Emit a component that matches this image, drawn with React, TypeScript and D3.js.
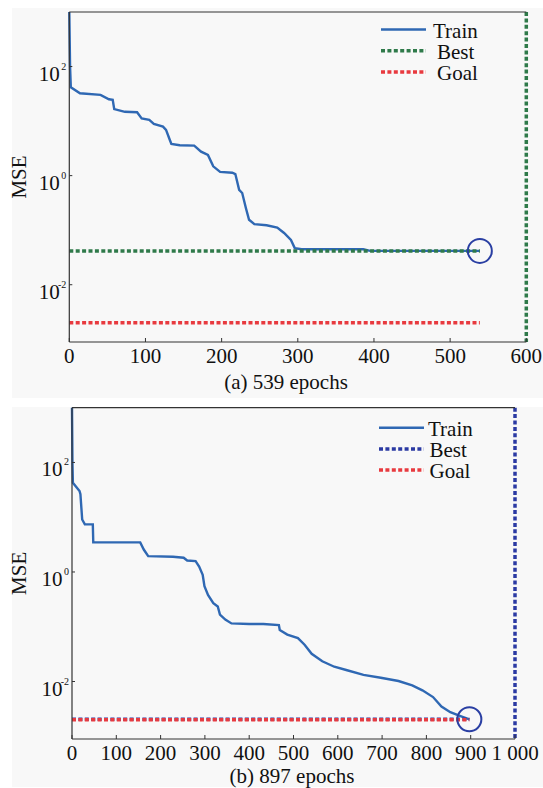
import React from 'react'
import * as d3 from 'd3'

const W = 543
const H = 788
const FONT = 'Liberation Serif, Times New Roman, DejaVu Serif, serif'

// panel (a)
const epochsA = [0, 1, 2, 14, 41, 52, 57, 59, 73, 89, 95, 105, 111, 123, 127, 132, 134, 145, 164, 173, 182, 189, 198, 214, 218, 223, 227, 232, 236, 243, 259, 273, 282, 291, 296, 305, 386, 395, 539]
const mseA = [1000, 100, 41.7, 32.4, 30.2, 25.1, 24.5, 16.6, 14.8, 14.5, 11.2, 10.5, 8.9, 7.9, 6.9, 4.5, 3.8, 3.6, 3.55, 2.75, 2.4, 1.48, 1.17, 1.13, 1.07, 0.55, 0.48, 0.25, 0.155, 0.129, 0.123, 0.112, 0.089, 0.066, 0.047, 0.0447, 0.0447, 0.0417, 0.0417]
const bestA = 0.0417
const goalA = 0.002
const lastEpochA = 539
const xTicksA = [0, 100, 200, 300, 400, 500, 600]
const xLabelsA = ['0', '100', '200', '300', '400', '500', '600']

// panel (b)
const epochsB = [0, 1, 2, 17, 19, 23, 29, 47, 48, 154, 162, 172, 228, 252, 260, 279, 287, 295, 299, 307, 319, 329, 334, 346, 360, 400, 432, 467, 469, 486, 510, 525, 541, 565, 592, 619, 658, 697, 737, 768, 791, 815, 834, 854, 877, 897]
const mseB = [1000, 100, 42.7, 30.2, 26.3, 9.1, 7.4, 7.4, 3.47, 3.47, 2.57, 1.95, 1.9, 1.82, 1.62, 1.58, 1.26, 0.89, 0.55, 0.38, 0.27, 0.234, 0.166, 0.135, 0.115, 0.112, 0.112, 0.107, 0.087, 0.072, 0.062, 0.047, 0.032, 0.0234, 0.0186, 0.0162, 0.0132, 0.0117, 0.0102, 0.0085, 0.0069, 0.0052, 0.0035, 0.00275, 0.00234, 0.00204]
const bestB = 0.00204
const goalB = 0.002
const lastEpochB = 897
const xTicksB = [0, 100, 200, 300, 400, 500, 600, 700, 800, 900, 1000]
const xLabelsB = ['0', '100', '200', '300', '400', '500', '600', '700', '800', '900', '1 000']

const yTicks = [100, 1, 0.01]
const yExps = ['2', '0', '-2']
const legendLabels = ['Train', 'Best', 'Goal']

const trainColor = '#2f68b3'
const goalColor = '#e83a3f'

type PanelProps = {
  epochs: number[]
  mse: number[]
  best: number
  goal: number
  lastEpoch: number
  xTicks: number[]
  xLabels: string[]
  xMax: number
  left: number
  right: number
  top: number
  bottom: number
  bestColor: string
  caption: string
  captionX: number
  captionY: number
  legendX: number
  legendY: number
  legendTextX: number[]
}

const txt = { fontFamily: FONT, fill: '#111' }

const Panel = (p: PanelProps) => {
  const x = d3.scaleLinear().domain([0, p.xMax]).range([p.left, p.right])
  const y = d3.scaleLog().domain([Math.pow(10, -3.05), 1000]).range([p.bottom, p.top])
  const line = d3.line<number>()
    .x((d, i) => x(p.epochs[i]))
    .y(d => y(d))
  const dash = '4 2.4'
  const legendColors = [trainColor, p.bestColor, goalColor]
  return (
    <g>
      <path d={line(p.mse) || ''} fill='none' stroke={trainColor} strokeWidth={2.4} />
      <line x1={x(0)} x2={x(p.lastEpoch)} y1={y(p.best)} y2={y(p.best)} stroke={p.bestColor} strokeWidth={3.5} strokeDasharray={dash} />
      <line x1={x(p.xMax)} x2={x(p.xMax)} y1={p.top} y2={p.bottom} stroke={p.bestColor} strokeWidth={3.5} strokeDasharray={dash} />
      <line x1={x(0)} x2={x(p.lastEpoch)} y1={y(p.goal)} y2={y(p.goal)} stroke={goalColor} strokeWidth={3.5} strokeDasharray={dash} />
      <circle cx={x(p.lastEpoch)} cy={y(p.best)} r={12} fill='none' stroke='#2a3fa3' strokeWidth={2} />
      {/* axes */}
      <line x1={p.left} x2={p.right} y1={p.top} y2={p.top} stroke='#333' strokeWidth={1.2} />
      <line x1={p.left} x2={p.right} y1={p.bottom} y2={p.bottom} stroke='#333' strokeWidth={1.2} />
      <line x1={p.left} x2={p.left} y1={p.top} y2={p.bottom} stroke='#333' strokeWidth={1.2} />
      {p.xTicks.map((t, i) => (
        <g key={t}>
          <line x1={x(t)} x2={x(t)} y1={p.bottom} y2={p.bottom - 4} stroke='#333' />
          <text x={x(t)} y={p.bottom + 21} textAnchor='middle' fontSize={21} style={txt}>{p.xLabels[i]}</text>
        </g>
      ))}
      {yTicks.map((t, i) => (
        <g key={t}>
          <line x1={p.left} x2={p.left + 3} y1={y(t)} y2={y(t)} stroke='#333' />
          <text x={p.left - 9.5} y={y(t) + 14} textAnchor='end' fontSize={21} style={txt}>10</text>
          <text x={p.left - 3} y={y(t) + 3} textAnchor='end' fontSize={10} style={txt}>{yExps[i]}</text>
        </g>
      ))}
      <text transform={`translate(${26},${(p.top + p.bottom) / 2}) rotate(-90)`} textAnchor='middle' fontSize={21} style={txt}>MSE</text>
      <text x={p.captionX} y={p.captionY} textAnchor='middle' fontSize={21} style={txt}>{p.caption}</text>
      {legendLabels.map((l, i) => (
        <g key={l}>
          <line x1={p.legendX} x2={p.legendX + 45} y1={p.legendY + i * 21.2} y2={p.legendY + i * 21.2}
            stroke={legendColors[i]} strokeWidth={i === 0 ? 2.4 : 3.5} strokeDasharray={i === 0 ? undefined : dash} />
          <text x={p.legendTextX[i]} y={p.legendY + i * 21.2 + 8} fontSize={21} style={txt}>{l}</text>
        </g>
      ))}
    </g>
  )
}

const App = () => {
  return (
    <svg width={W} height={H} style={{ position: 'absolute', left: 0, top: 0 }}>
      <rect x={0} y={0} width={W} height={H} fill='#fff' />
      <rect x={12} y={8} width={W - 12} height={390} fill='#f8f8f8' />
      <rect x={12} y={407} width={W - 12} height={380} fill='#f8f8f8' />
      <Panel epochs={epochsA} mse={mseA} best={bestA} goal={goalA} lastEpoch={lastEpochA}
        xTicks={xTicksA} xLabels={xLabelsA} xMax={600}
        left={69.3} right={526.3} top={12} bottom={342}
        bestColor='#2f7a4a' caption='(a) 539 epochs' captionX={286} captionY={389}
        legendX={381} legendY={29.5} legendTextX={[433, 437, 437]} />
      <Panel epochs={epochsB} mse={mseB} best={bestB} goal={goalB} lastEpoch={lastEpochB}
        xTicks={xTicksB} xLabels={xLabelsB} xMax={1000}
        left={72} right={515} top={407.7} bottom={739}
        bestColor='#2b3aa3' caption='(b) 897 epochs' captionX={292} captionY={783}
        legendX={379} legendY={427.7} legendTextX={[428, 429.5, 429.5]} />
    </svg>
  )
}

export default App
